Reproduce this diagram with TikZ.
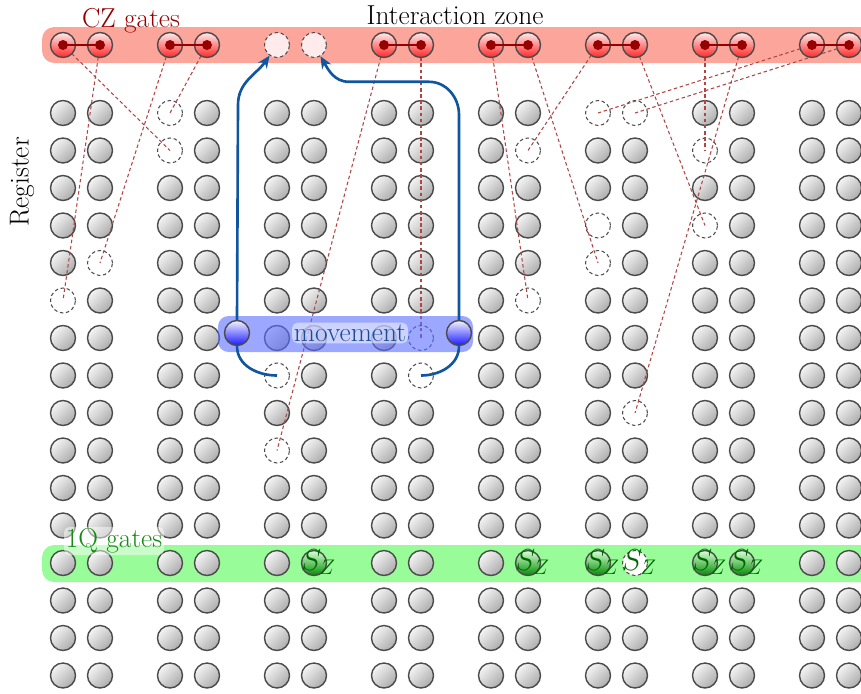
\documentclass[tikz,border=0pt]{standalone}
\usetikzlibrary{arrows.meta,calc}
\definecolor{czband}{RGB}{252,165,155}
\definecolor{qband}{RGB}{152,252,152}
\definecolor{mvband}{RGB}{90,110,255}
\definecolor{czdark}{RGB}{150,0,0}
\definecolor{czline}{RGB}{175,70,70}
\definecolor{mvblue}{RGB}{15,85,160}
\definecolor{mvtext}{RGB}{25,75,150}
\definecolor{qtext}{RGB}{20,140,20}
\definecolor{atombdr}{RGB}{75,75,75}
\pgfdeclarelayer{back}
\pgfdeclarelayer{front}
\pgfsetlayers{back,main,front}
\tikzset{
  %% register atom
  reg/.style={circle,draw=atombdr,line width=0.8pt,minimum size=0.5cm,inner sep=0pt,
    top color=gray!8,bottom color=gray!65,shading angle=45},
  %% empty site
  hole/.style={circle,draw=atombdr,dash pattern=on 2pt off 1.5pt,line width=0.6pt,
    fill=white,minimum size=0.5cm,inner sep=0pt},
  %% empty target site in the interaction zone
  tgt/.style={hole,fill=red!8},
  %% atoms in the zones
  czatom/.style={reg,top color=red!8,bottom color=red!85},
  szatom/.style={reg,top color=green!15,bottom color=green!55!black},
  mvatom/.style={reg,top color=blue!5,bottom color=blue!90},
  %% gate pair bar
  czbar/.style={line width=1.6pt,color=czdark},
  %% arrows
  link/.style={czline,line width=0.6pt,dash pattern=on 2pt off 1.5pt},
  movearr/.style={-{Stealth[length=7pt,width=6pt]},line width=1.5pt,color=mvblue},
  movelink/.style={line width=1.5pt,color=mvblue},
  lbl/.style={font=\fontsize{15.6}{18}\selectfont,inner sep=1pt},
  tag/.style={lbl,fill=white,fill opacity=0.5,text opacity=1,rounded corners=3pt},
  szlbl/.style={font=\fontsize{18}{20}\selectfont,text=green!40!black,inner sep=0pt},
}
%% which register sites are not plain atoms
\foreach \p/\k in {0-6/hole,1-5/hole,2-1/hole,2-2/hole,4-8/hole,4-10/hole,7-7/hole,
  7-8/hole,9-2/hole,9-6/hole,10-1/hole,11-1/hole,10-4/hole,10-5/hole,12-2/hole,
  12-4/hole,11-9/hole,11-13/hole,5-13/szatom,9-13/szatom,10-13/szatom,12-13/szatom,
  13-13/szatom}
  {\expandafter\xdef\csname k\p\endcsname{\k}}

\begin{document}
\begin{tikzpicture}[x=0.02cm,y=-0.02cm]
  \useasboundingbox (0,0) rectangle (861,693);

  \begin{pgfonlayer}{back}
    \fill[czband,rounded corners=7pt] (42,27) rectangle (890,63);
    \fill[qband,rounded corners=7pt] (42,545) rectangle (890,582);
  \end{pgfonlayer}

  %% register
  \foreach \g in {0,...,7}
    \foreach \j in {0,1}
      \foreach \r in {1,...,16}{
        \pgfmathtruncatemacro\c{2*\g+\j}
        \ifcsname k\c-\r\endcsname \edef\kind{\csname k\c-\r\endcsname}\else\def\kind{reg}\fi
        \node[\kind] (r\c-\r) at ({63+107*\g+37*\j},{113+37.5*(\r-1)}) {};
      }

  \begin{pgfonlayer}{front}
    %% interaction zone
    \foreach \g in {0,1,3,4,5,6,7}
      \foreach \j in {0,1}{
        \pgfmathtruncatemacro\c{2*\g+\j}
        \node[czatom] (t\c) at ({63+107*\g+37*\j},45) {};
      }
    \node[tgt] (t4) at (277,45) {};
    \node[tgt] (t5) at (314,45) {};
    \foreach \a/\b in {0/1,2/3,6/7,8/9,10/11,12/13,14/15}{
      \draw[czbar] (t\a.center) -- (t\b.center);
      \fill[czdark] (t\a.center) circle (0.1cm) (t\b.center) circle (0.1cm);
    }

    %% movement
    \fill[mvband,fill opacity=0.6,rounded corners=6pt] (218,316) rectangle (473,352);
    \node[mvatom] (mv1) at (237,333) {};
    \node[mvatom] (mv2) at (459,333) {};
    \draw[movelink] (r4-8.center) to[out=180,in=-90] (mv1.south);
    \draw[movelink] (r7-8.center) to[out=0,in=-90] (mv2.south);
    \draw[movearr] (mv1.north) -- ++(1,-215) to[out=90,in=-125] (t4);
    \draw[movearr] (mv2.north) -- ++(0,-205) to[out=90,in=0] ++(-30,-33)
      -- ++(-80,0) to[out=180,in=-60] (t5);

    %% 1Q gates
    \foreach \c in {5,9,10,11,12,13}
      \node[szlbl] (sz\c) at ([xshift=0.09cm,yshift=0.02cm]r\c-13) {$S_Z$};

    \node[lbl] (izone) at (455,15) {Interaction zone};
    \node[lbl,text=czdark] (czlbl) at (131,21) {CZ gates};
    \node[lbl,rotate=90] (reglbl) at (22,182) {Register};
    \node[tag,text=mvtext] (mvlbl) at (350,333) {movement};
    \node[tag,text=qtext] (qlbl) at (114,541) {1Q gates};
  \end{pgfonlayer}

  %% gate assignments
  \foreach \a/\b in {0/2-2,1/0-6,2/1-5,3/2-1,6/4-10,7/7-7,8/9-6,9/10-5,10/9-2,
    11/12-4,12/12-2,13/11-9,14/10-1,15/11-1}
    \draw[link] (t\a.center) -- (r\b.center);
\end{tikzpicture}
\end{document}
